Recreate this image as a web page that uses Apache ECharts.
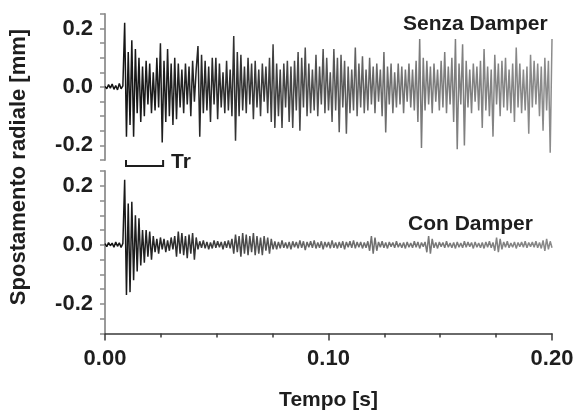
<!DOCTYPE html>
<html>
<head>
<meta charset="utf-8">
<script src="https://cdn.jsdelivr.net/npm/echarts@6/dist/echarts.min.js"></script>
<style>
html,body{margin:0;padding:0;background:#fff;}
#chart{width:578px;height:412px;}
</style>
</head>
<body>
<div id="chart"></div>
<script>
// ---- data ----
const tStart = 0.0;
const tEnd = 0.2;
const xTickLabels = ['0.00', '0.10', '0.20'];
const yTickLabels = ['-0.2', '0.0', '0.2'];
const panelNames = ['Senza Damper', 'Con Damper'];
const xName = 'Tempo [s]';
const yName = 'Spostamento radiale [mm]';
const trLabel = 'Tr';
const trRange = [0.0094, 0.026];

const senzaDamper = [
  0.002, -0.006, 0.008, -0.004, 0.01, -0.008, 0.005, -0.01, 0.012, -0.006, 0.004,
  0.22, -0.17, 0.12, -0.13, 0.16, -0.17, 0.13, -0.09, 0.1, -0.12,
  0.07, -0.1, 0.09, -0.06, 0.08, -0.09, 0.05, -0.08, 0.1, -0.07,
  0.15, -0.19, 0.09,
  -0.12, 0.13, -0.1, 0.08, -0.13, 0.1, -0.11, 0.08, -0.07,
  0.06, -0.09, 0.08, -0.06, 0.07, -0.1, 0.09, -0.05, 0.06,
  0.14, -0.17, 0.11, -0.09,
  0.09, -0.08, 0.07, -0.12, 0.1, -0.06, 0.1, -0.11, 0.08, -0.07, 0.05, -0.09, 0.09, -0.08, 0.06,
  -0.1, 0.175, -0.184, 0.12,
  -0.1, 0.11, -0.08, 0.07, -0.09, 0.1, -0.06, 0.08, -0.11, 0.09, -0.07, 0.06, -0.1, 0.08, -0.05, 0.07, -0.09, 0.1,
  -0.12, 0.146, -0.14,
  0.08, -0.1, 0.06, -0.14, 0.08, -0.07, 0.09, -0.12, 0.07, -0.14, 0.09, -0.08, 0.12, -0.15, 0.1, -0.07,
  0.135, -0.1, 0.08, -0.09, 0.06, -0.08, 0.11, -0.1, 0.07, -0.06, 0.13, -0.09, 0.1, -0.08, 0.05,
  -0.12, 0.13, -0.08, 0.1, -0.155, 0.11, -0.07, 0.09,
  -0.16, 0.07, -0.09, 0.06, -0.08, 0.135, -0.1,
  0.08, -0.07, 0.105, -0.09, 0.06, -0.08, 0.1, -0.06, 0.07, -0.09, 0.08, -0.05, 0.06,
  -0.1, 0.12, -0.156, 0.07,
  -0.06, 0.08, -0.09, 0.05, -0.07, 0.08, -0.06, 0.07, -0.09, 0.06, -0.05, 0.08, -0.07, 0.06, -0.08,
  0.09, -0.12, 0.164, -0.209, 0.1,
  -0.08, 0.09, -0.06, 0.07, -0.09, 0.08, -0.05, 0.06, -0.08, 0.09, -0.07, 0.12, -0.09, 0.07, -0.06,
  0.1, -0.12, 0.164, -0.213, 0.08, -0.06, 0.146, -0.2,
  0.09, -0.07, 0.06, -0.09, 0.08, -0.05, 0.07, -0.08, 0.09,
  -0.14, 0.13,
  -0.08, 0.07, -0.1, 0.06, -0.17, 0.11, -0.06,
  0.08, -0.1, 0.09, -0.07, 0.1, -0.08, 0.06, -0.09, 0.08,
  -0.12, 0.135, -0.07,
  0.08, -0.09, 0.06, -0.08, 0.07,
  -0.16, 0.11,
  -0.07, 0.09, -0.06, 0.08, -0.1, 0.07,
  -0.15, 0.1,
  -0.08, 0.09, -0.225, 0.164
];

const conDamper = [
  0.004, -0.006, 0.008, -0.003, 0.006, -0.008, 0.01, -0.005, 0.007, -0.009, 0.005,
  0.22, -0.17, 0.14, -0.16, 0.146, -0.12, 0.1,
  -0.09, 0.09, -0.07,
  0.05, -0.06, 0.05, -0.04, 0.045, -0.05, 0.03,
  -0.025, 0.02, -0.03, 0.025, -0.015, 0.02, -0.025, 0.015, -0.02, 0.025, -0.015,
  0.03, -0.04, 0.045, -0.03, 0.04, -0.035, 0.03, -0.045, 0.035, -0.03, 0.04, -0.05, 0.025,
  -0.015, 0.012, -0.01, 0.015, -0.012, 0.01, -0.015, 0.008, -0.012, 0.015, -0.01, 0.012, -0.008, 0.01, -0.015, 0.012, -0.01, 0.015, -0.012,
  0.02, -0.03, 0.035, -0.025, 0.03, -0.04, 0.04, -0.03, 0.035, -0.035, 0.03, -0.025, 0.04, -0.035, 0.03, -0.03, 0.025, -0.035, 0.03, -0.02, 0.025, -0.03, 0.02, -0.015,
  0.012, -0.015, 0.01, -0.012, 0.015, -0.01, 0.008, -0.012, 0.01, -0.015, 0.012, -0.008, 0.01, -0.012, 0.015, -0.01, 0.012, -0.018,
  0.01, -0.008, 0.012, -0.01, 0.015, -0.012, 0.008, -0.01, 0.012, -0.015, 0.01, -0.008, 0.01, -0.012, 0.015, -0.01, 0.008, -0.012,
  0.01, -0.01, 0.012, -0.015, 0.01, -0.008, 0.012, -0.01, 0.015, -0.012, 0.01, -0.008, 0.01, -0.012, 0.008, -0.01, 0.012,
  -0.02, 0.03, -0.03, 0.025, -0.02,
  0.01, -0.008, 0.012, -0.01, 0.008, -0.012, 0.01, -0.006, 0.008, -0.01, 0.012, -0.008, 0.006, -0.01, 0.008, -0.012, 0.01, -0.008, 0.006, -0.01, 0.012, -0.008, 0.01, -0.012, 0.008, -0.006, 0.01,
  -0.025, 0.03, -0.03, 0.02,
  -0.01, 0.008, -0.012, 0.01, -0.006, 0.008, -0.01, 0.012, -0.008, 0.006, -0.01, 0.008, -0.012, 0.01, -0.008, 0.006, -0.01,
  0.012, -0.008, 0.01, -0.006, 0.008, -0.012, 0.01, -0.008, 0.006, -0.01, 0.008, -0.012, 0.01, -0.008, 0.012, -0.01, 0.008,
  -0.02, 0.025, -0.025, 0.02, -0.015,
  0.01, -0.008, 0.012, -0.01, 0.006, -0.008, 0.01, -0.012, 0.008, -0.006, 0.01, -0.008, 0.012, -0.01,
  0.008, -0.006, 0.01, -0.008, 0.012, -0.01, 0.008, -0.012, 0.015, -0.02, 0.02, -0.015, 0.012, -0.01
];

// ---- build chart ----
function toPairs(vals) {
  const step = (tEnd - tStart) / (vals.length - 1);
  return vals.map((v, i) => [tStart + i * step, v]);
}
const FONT = '"Liberation Sans", Arial, Helvetica, sans-serif';
const TXT = '#1e1e1e';

function yLabelFmt(v) {
  for (const s of yTickLabels) {
    if (Math.abs(v - parseFloat(s)) < 1e-9) return s;
  }
  return '';
}
function xLabelFmt(v) {
  for (const s of xTickLabels) {
    if (Math.abs(v - parseFloat(s)) < 1e-9) return s;
  }
  return '';
}

const yAxisCommon = {
  type: 'value',
  interval: 0.05,
  axisLine: { show: true, lineStyle: { color: '#9a9a9a', width: 2 } },
  axisTick: { show: true, length: 5, lineStyle: { color: '#8a8a8a', width: 1.5 } },
  splitLine: { show: false },
  axisLabel: {
    formatter: yLabelFmt, margin: 12, color: TXT,
    fontFamily: FONT, fontWeight: 'bold', fontSize: 22
  }
};

const chart = echarts.init(document.getElementById('chart'), null, { renderer: 'canvas' });

function gradient(stops) {
  return new echarts.graphic.LinearGradient(0, 0, 1, 0, stops);
}

const option = {
  backgroundColor: '#ffffff',
  animation: false,
  grid: [
    { left: 105, right: 26, top: 14, height: 146 },
    { left: 105, right: 26, top: 171, height: 162.5 }
  ],
  xAxis: [
    { gridIndex: 0, type: 'value', min: 0, max: 0.2, show: false },
    {
      gridIndex: 1, type: 'value', min: 0, max: 0.2, interval: 0.1,
      axisLine: { show: true, onZero: false, lineStyle: { color: '#3a3a3a', width: 1.5 } },
      axisTick: { show: true, length: 7, lineStyle: { color: '#3a3a3a', width: 1.5 } },
      minorTick: { show: true, splitNumber: 4, length: 4, lineStyle: { color: '#3a3a3a', width: 1.5 } },
      splitLine: { show: false },
      axisLabel: {
        formatter: xLabelFmt, margin: 14, color: TXT,
        fontFamily: FONT, fontWeight: 'bold', fontSize: 22
      },
      name: xName, nameLocation: 'middle', nameGap: 56,
      nameTextStyle: { color: TXT, fontFamily: FONT, fontWeight: 'bold', fontSize: 21 }
    }
  ],
  yAxis: [
    Object.assign({ gridIndex: 0, min: -0.25, max: 0.25 }, yAxisCommon),
    Object.assign({ gridIndex: 1, min: -0.3, max: 0.25 }, yAxisCommon)
  ],
  series: [
    {
      type: 'line', xAxisIndex: 0, yAxisIndex: 0, data: toPairs(senzaDamper),
      showSymbol: false, symbol: 'none', smooth: false,
      lineStyle: {
        width: 1.5,
        color: gradient([
          { offset: 0, color: '#111111' },
          { offset: 0.25, color: '#2a2a2a' },
          { offset: 0.5, color: '#555555' },
          { offset: 0.7, color: '#7a7a7a' },
          { offset: 1, color: '#8c8c8c' }
        ])
      }
    },
    {
      type: 'line', xAxisIndex: 1, yAxisIndex: 1, data: toPairs(conDamper),
      showSymbol: false, symbol: 'none', smooth: false,
      lineStyle: {
        width: 1.5,
        color: gradient([
          { offset: 0, color: '#111111' },
          { offset: 0.2, color: '#333333' },
          { offset: 0.45, color: '#666666' },
          { offset: 1, color: '#8a8a8a' }
        ])
      }
    }
  ]
};
chart.setOption(option);

// annotations positioned from data coordinates
const pA = chart.convertToPixel({ gridIndex: 0 }, [trRange[0], -0.25]);
const pB = chart.convertToPixel({ gridIndex: 0 }, [trRange[1], -0.25]);
const yBr = pA[1] + 6;
chart.setOption({
  graphic: [
    {
      type: 'text', left: 403, top: 14,
      style: { text: panelNames[0], fill: TXT, font: 'bold 21px ' + FONT }
    },
    {
      type: 'text', left: 408, top: 214,
      style: { text: panelNames[1], fill: TXT, font: 'bold 21px ' + FONT }
    },
    {
      type: 'polyline',
      shape: { points: [[pA[0], yBr - 6], [pA[0], yBr], [pB[0], yBr], [pB[0], yBr - 6]] },
      style: { stroke: '#1e1e1e', lineWidth: 2, fill: null }
    },
    {
      type: 'text', x: pB[0] + 8, y: yBr - 14,
      style: { text: trLabel, fill: TXT, font: 'bold 21px ' + FONT }
    },
    {
      type: 'text', x: 19, y: 167, rotation: Math.PI / 2,
      style: {
        text: yName, fill: TXT, font: 'bold 22px ' + FONT,
        align: 'center', verticalAlign: 'middle'
      }
    }
  ]
});
</script>
</body>
</html>
